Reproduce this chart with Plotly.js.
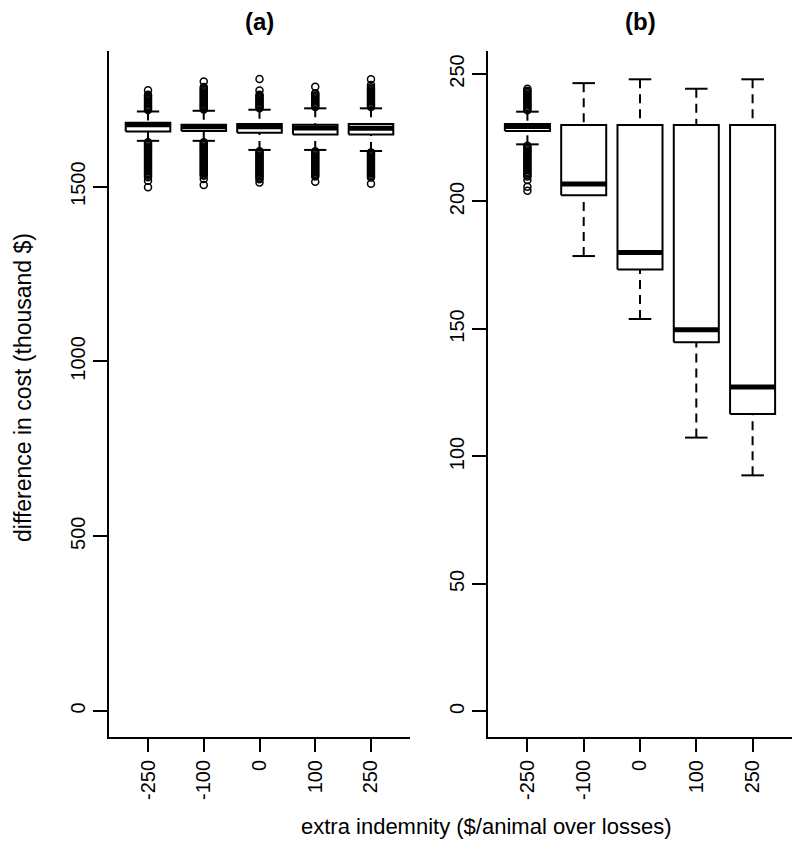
<!DOCTYPE html>
<html>
<head>
<meta charset="utf-8">
<script src="https://cdn.plot.ly/plotly-3.0.1.min.js"></script>
<style>html,body{margin:0;padding:0;background:#fff;}#chart{width:800px;height:849px;}</style>
</head>
<body>
<div id="chart"></div>
<script>
// ---- categories / tick labels ----
const categories = ['-250', '-100', '0', '100', '250'];

// ---- panel (a): difference in cost (thousand $) ----
const aLowerWhisker = [1631, 1631, 1605, 1605, 1602];
const aQ1 = [1658, 1659, 1654, 1649, 1649];
const aMedian = [1677, 1671, 1671, 1668, 1667];
const aQ3 = [1683, 1677, 1679, 1677, 1679];
const aUpperWhisker = [1715, 1717, 1720, 1724, 1724];

const aOutliersM250 = [1719,1723,1727,1731,1735,1739,1743,1747,1751,1755,1759,1763,1776,
  1627,1623,1619,1615,1611,1607,1603,1599,1595,1591,1587,1583,1579,1575,1571,1567,1563,1559,1555,1551,1547,1543,1539,1535,1531,1527,1517,1498];
const aOutliersM100 = [1721,1725,1729,1733,1737,1741,1745,1749,1753,1757,1761,1765,1769,1773,1777,1781,1785,1801,
  1627,1623,1619,1615,1611,1607,1603,1599,1595,1591,1587,1583,1579,1575,1571,1567,1563,1559,1555,1551,1547,1543,1539,1535,1531,1522,1505];
const aOutliers0 = [1724,1728,1732,1736,1740,1744,1748,1752,1756,1760,1763,1775,1808,
  1601,1597,1593,1589,1585,1581,1577,1573,1569,1565,1561,1557,1553,1549,1545,1541,1537,1533,1529,1525,1521,1512];
const aOutliersP100 = [1728,1732,1736,1740,1744,1748,1752,1756,1760,1764,1767,1786,
  1601,1597,1593,1589,1585,1581,1577,1573,1569,1565,1561,1557,1553,1549,1545,1541,1537,1533,1529,1514];
const aOutliersP250 = [1728,1732,1736,1740,1744,1748,1752,1756,1760,1764,1768,1772,1776,1780,1784,1791,1807,
  1598,1594,1590,1586,1582,1578,1574,1570,1566,1562,1558,1554,1550,1546,1542,1538,1534,1530,1526,1508];

// ---- panel (b) ----
const bLowerWhisker = [222.4, 178.6, 153.9, 107.4, 92.6];
const bQ1 = [227.6, 202.4, 173.3, 144.8, 116.7];
const bMedian = [229.4, 206.8, 180.0, 149.7, 127.2];
const bQ3 = [230.4, 230.0, 230.0, 230.0, 230.0];
const bUpperWhisker = [235.2, 246.4, 247.9, 244.2, 247.9];

const bOutliersM250 = [235.8,236.4,237.0,237.6,238.2,238.8,239.4,240.0,240.6,241.2,241.8,242.4,243.0,243.4,244.2,
  221.8,221.2,220.6,220.0,219.4,218.8,218.2,217.6,217.0,216.4,215.8,215.2,214.6,214.0,213.4,212.8,212.2,211.6,211.0,210.4,209.8,208.4,205.8,204.2];
const bOutliersM100 = [];
const bOutliers0 = [];
const bOutliersP100 = [];
const bOutliersP250 = [];

const BOXW = 0.8, CAPW = 0.4;

function panelTraces(lo, q1, med, q3, hi, outs, xa, ya) {
  const wx = [], wy = [], cx = [], cy = [], bx = [], by = [], mx = [], my = [], ox = [], oy = [];
  categories.forEach((c, i) => {
    const p = i + 1, h = BOXW / 2, s = CAPW / 2;
    wx.push(p, p, null, p, p, null); wy.push(hi[i], q3[i], null, lo[i], q1[i], null);
    cx.push(p - s, p + s, null, p - s, p + s, null); cy.push(hi[i], hi[i], null, lo[i], lo[i], null);
    bx.push(p - h, p + h, p + h, p - h, p - h, null); by.push(q1[i], q1[i], q3[i], q3[i], q1[i], null);
    mx.push(p - h, p + h, null); my.push(med[i], med[i], null);
    outs[i].forEach(v => { ox.push(p); oy.push(v); });
  });
  const base = {xaxis: xa, yaxis: ya, hoverinfo: 'skip', showlegend: false, type: 'scatter'};
  return [
    Object.assign({}, base, {x: wx, y: wy, mode: 'lines', line: {color: '#000', width: 2, dash: '9px,6px'}}),
    Object.assign({}, base, {x: cx, y: cy, mode: 'lines', line: {color: '#000', width: 2}}),
    Object.assign({}, base, {x: bx, y: by, mode: 'lines', fill: 'toself', fillcolor: '#fff', line: {color: '#000', width: 2}}),
    Object.assign({}, base, {x: mx, y: my, mode: 'lines', line: {color: '#000', width: 5}}),
    Object.assign({}, base, {x: ox, y: oy, mode: 'markers', marker: {symbol: 'circle-open', size: 7, color: '#000', line: {width: 1.5, color: '#000'}}})
  ];
}

const data = [].concat(
  panelTraces(aLowerWhisker, aQ1, aMedian, aQ3, aUpperWhisker,
    [aOutliersM250, aOutliersM100, aOutliers0, aOutliersP100, aOutliersP250], 'x', 'y'),
  panelTraces(bLowerWhisker, bQ1, bMedian, bQ3, bUpperWhisker,
    [bOutliersM250, bOutliersM100, bOutliers0, bOutliersP100, bOutliersP250], 'x2', 'y2')
);

const FONT = 'Liberation Sans, Arial, sans-serif';
const tickFont = {family: FONT, size: 20, color: '#000'};
const xCommon = {
  range: [0.3, 5.7], tickmode: 'array', tickvals: [1, 2, 3, 4, 5], ticktext: categories,
  showline: true, linecolor: '#000', linewidth: 2, ticks: 'outside', ticklen: 13, tickwidth: 2, tickcolor: '#000',
  tickangle: -90, tickfont: tickFont, showgrid: false, zeroline: false, fixedrange: true
};
const yCommon = {
  showline: true, linecolor: '#000', linewidth: 2, ticks: 'outside', ticklen: 14, tickwidth: 2, tickcolor: '#000',
  tickangle: -90, tickfont: tickFont, showgrid: false, zeroline: false, fixedrange: true,
  domain: [0.13192, 0.93993]
};

const layout = {
  width: 800, height: 849,
  margin: {l: 0, r: 0, t: 0, b: 0},
  paper_bgcolor: '#fff', plot_bgcolor: '#fff',
  showlegend: false,
  xaxis: Object.assign({}, xCommon, {domain: [109 / 800, 410 / 800], anchor: 'y'}),
  yaxis: Object.assign({}, yCommon, {range: [-74.4, 1888], tickvals: [0, 500, 1000, 1500], anchor: 'x'}),
  xaxis2: Object.assign({}, xCommon, {domain: [488 / 800, 792 / 800], anchor: 'y2'}),
  yaxis2: Object.assign({}, yCommon, {range: [-10, 259], tickvals: [0, 50, 100, 150, 200, 250], anchor: 'x2'}),
  annotations: [
    {text: '<b>(a)</b>', xref: 'paper', yref: 'paper', x: 259.5 / 800, y: 1 - 22 / 849, showarrow: false,
      xanchor: 'center', yanchor: 'middle', font: {family: FONT, size: 24, color: '#000'}},
    {text: '<b>(b)</b>', xref: 'paper', yref: 'paper', x: 640 / 800, y: 1 - 22 / 849, showarrow: false,
      xanchor: 'center', yanchor: 'middle', font: {family: FONT, size: 24, color: '#000'}},
    {text: 'difference in cost (thousand $)', xref: 'paper', yref: 'paper', x: 23 / 800, y: 1 - 388 / 849,
      showarrow: false, textangle: -90, xanchor: 'center', yanchor: 'middle', font: {family: FONT, size: 23, color: '#000'}},
    {text: 'extra indemnity ($/animal over losses)', xref: 'paper', yref: 'paper', x: 486 / 800, y: 1 - 826 / 849,
      showarrow: false, xanchor: 'center', yanchor: 'middle', font: {family: FONT, size: 22, color: '#000'}}
  ]
};

Plotly.newPlot('chart', data, layout, {displayModeBar: false, staticPlot: true});
</script>
</body>
</html>
